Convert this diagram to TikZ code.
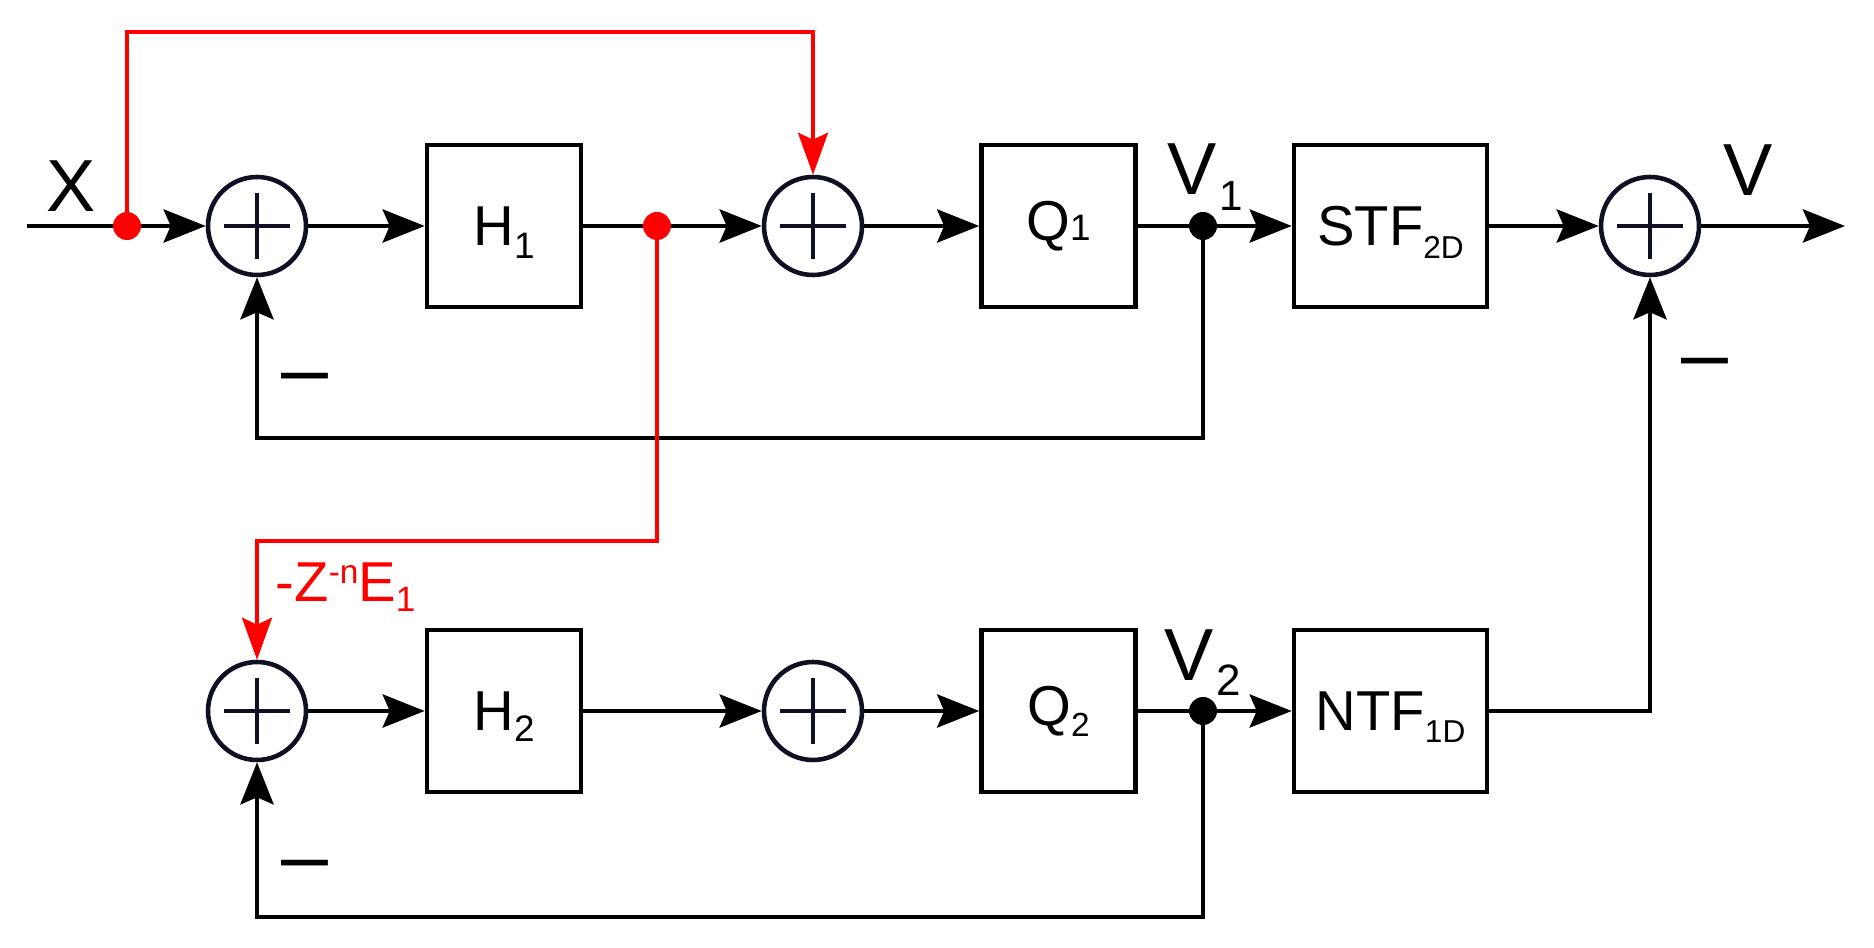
\documentclass[tikz,border=0pt]{standalone}
\usepackage{fontspec}
\setmainfont{Liberation Sans}
\usetikzlibrary{arrows.meta}
\definecolor{sumblue}{RGB}{16,16,36}
\def\idx#1#2#3{\raisebox{#1}[0pt][0pt]{\fontsize{#2}{#2}\selectfont #3}}

\begin{document}
\begin{tikzpicture}[
		blk/.style={draw, line width=1.3pt, minimum width=1.54cm, minimum height=1.62cm, inner sep=0pt, font=\fontsize{16}{16}\selectfont},
		summer/.style={circle, draw=sumblue, line width=1.3pt, minimum size=0.98cm, inner sep=0pt,
			path picture={\draw[line width=1.1pt] ([xshift=-0.33cm]path picture bounding box.center) -- ([xshift=0.33cm]path picture bounding box.center)
				([yshift=-0.33cm]path picture bounding box.center) -- ([yshift=0.33cm]path picture bounding box.center);}},
		sig/.style={line width=1.4pt, -{Stealth[length=0.42cm,width=0.33cm,inset=0.07cm]}},
		redsig/.style={red, line width=1pt, -{Stealth[length=0.42cm,width=0.30cm,inset=0.07cm]}},
		tap/.style={circle, fill, inner sep=0pt, minimum size=0.28cm},
		lbl/.style={anchor=base west, inner sep=0pt, font=\fontsize{21}{21}\selectfont},
		minus/.style={anchor=base, inner sep=0pt, font=\fontsize{24}{24}\selectfont}
	]
			%%%%% START %%%%%
			\useasboundingbox (0,0) rectangle (18.74,-9.48);
			
			% upper loop
			\coordinate (xin) at (0.27,-2.26);
			\coordinate (xtap) at (1.27,-2.26);
			\node[summer] (sum1) at (2.57,-2.26) {};
			\node[blk] (h1) at (5.04,-2.26) {H\idx{-0.13cm}{10.5}{1}};
			\coordinate (htap) at (6.57,-2.26);
			\node[summer] (sum2) at (8.13,-2.26) {};
			\node[blk] (q1) at (10.585,-2.26) {Q\idx{0cm}{10.5}{1}};
			\coordinate (v1tap) at (12.03,-2.26);
			\node[blk, minimum width=1.93cm] (stf) at (13.905,-2.26) {STF\idx{-0.13cm}{9}{2D}};
			\node[summer] (sum3) at (16.50,-2.26) {};
			\coordinate (vout) at (18.45,-2.26);
			
			% lower loop
			\node[summer] (sum4) at (2.57,-7.11) {};
			\node[blk] (h2) at (5.04,-7.11) {H\idx{-0.11cm}{10.5}{2}};
			\node[summer] (sum5) at (8.13,-7.11) {};
			\node[blk] (q2) at (10.585,-7.11) {Q\idx{-0.11cm}{9.5}{2}};
			\coordinate (v2tap) at (12.03,-7.11);
			\node[blk, minimum width=1.93cm] (ntf) at (13.905,-7.11) {NTF\idx{-0.12cm}{9}{1D}};
			
			% forward paths
			\draw[sig] (xin) -- (sum1);
			\draw[sig] (sum1) -- (h1);
			\draw[sig] (h1) -- (sum2);
			\draw[sig] (sum2) -- (q1);
			\draw[sig] (q1) -- (stf);
			\draw[sig] (stf) -- (sum3);
			\draw[sig] (sum3) -- (vout);
			\draw[sig] (sum4) -- (h2);
			\draw[sig] (h2) -- (sum5);
			\draw[sig] (sum5) -- (q2);
			\draw[sig] (q2) -- (ntf);
			\draw[sig] (ntf) -| (sum3);
			
			% feedback
			\draw[sig] (v1tap) -- ++(0,-2.12) -| (sum1);
			\draw[sig] (v2tap) -- ++(0,-2.06) -| (sum4);
			
			% red paths
			\draw[redsig] (xtap) -- ++(0,1.94) -| (sum2);
			\draw[redsig] (htap) -- ++(0,-3.15) -| (sum4);
			
			% dots
			\node[tap, red] at (xtap) {};
			\node[tap, red] at (htap) {};
			\node[tap] at (v1tap) {};
			\node[tap] at (v2tap) {};
			
			% labels
			\node[lbl] (xlab) at (0.46,-2.12) {X};
			\node[lbl] (v1lab) at (11.67,-1.95) {V\hspace{0.03cm}\idx{-0.16cm}{12}{1}};
			\node[lbl] (vlab) at (17.23,-1.96) {V};
			\node[lbl] (v2lab) at (11.64,-6.81) {V\hspace{0.03cm}\idx{-0.15cm}{12.5}{2}};
			\node[lbl, red, font=\fontsize{16}{16}\selectfont] (elab) at (2.75,-6.02) {-Z\idx{0.18cm}{9.5}{-n}E\idx{-0.10cm}{10}{1}};
			\node[minus] (m1) at (3.05,-3.98) {--};
			\node[minus] (m2) at (3.05,-8.84) {--};
			\node[minus] (m3) at (17.05,-3.83) {--};
			
			%%%%% END %%%%%
\end{tikzpicture}
\end{document}
